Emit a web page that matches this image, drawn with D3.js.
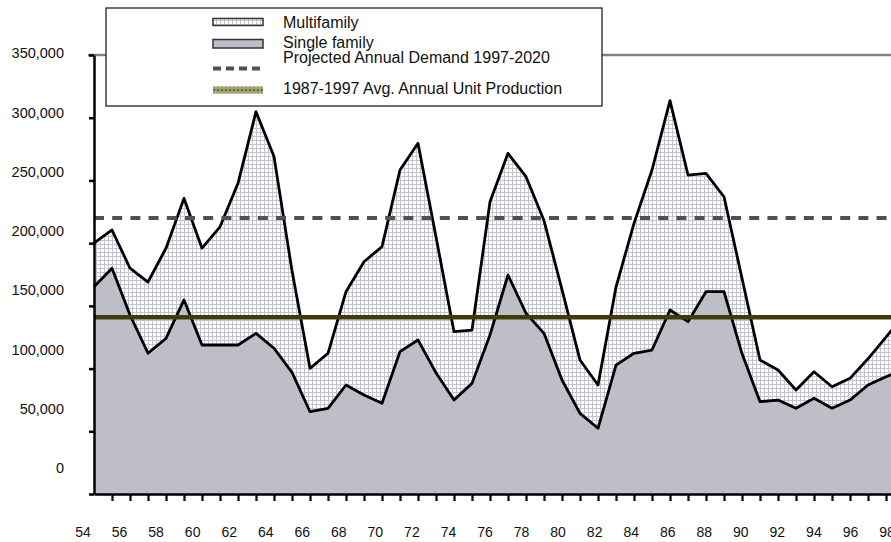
<!DOCTYPE html>
<html>
<head>
<meta charset="utf-8">
<script src="https://cdn.jsdelivr.net/npm/d3@7"></script>
<style>
  html, body { margin: 0; padding: 0; background: #fff; overflow: hidden; }
  svg { display: block; font-family: "Liberation Sans", Arial, sans-serif; }
</style>
</head>
<body>
<svg id="chart" width="891" height="542"></svg>
<script>
// Housing units authorized per year, 1954-1999
const years = [1954, 1955, 1956, 1957, 1958, 1959, 1960, 1961, 1962, 1963,
               1964, 1965, 1966, 1967, 1968, 1969, 1970, 1971, 1972, 1973,
               1974, 1975, 1976, 1977, 1978, 1979, 1980, 1981, 1982, 1983,
               1984, 1985, 1986, 1987, 1988, 1989, 1990, 1991, 1992, 1993,
               1994, 1995, 1996, 1997, 1998, 1999];

// Total units (single family + multifamily)
const totalUnits = [200000, 210500, 180000, 169000, 196000, 235700, 196000, 213000, 247700, 304800,
                    269000, 178000, 100200, 112200, 161300, 185200, 197200, 258300, 279600, 205000,
                    129400, 130700, 233000, 271600, 253000, 218000, 163000, 106800, 86900, 165000,
                    215800, 258300, 313600, 254300, 255700, 237000, 172000, 106800, 98900, 82900,
                    97500, 85500, 92200, 107800, 125100, 142700];

// Single family units
const singleFamily = [165300, 179900, 142700, 112200, 124100, 154700, 118800, 118800, 118800, 128100,
                      116200, 97000, 65600, 68300, 86900, 78900, 72300, 113500, 122800, 96600,
                      74900, 88200, 126800, 174600, 144100, 128100, 90900, 64300, 52400, 102800,
                      112200, 114800, 146700, 137400, 161300, 161300, 112000, 73600, 74900, 68300,
                      76300, 68300, 74900, 86900, 93500, 99400];

const projectedDemand = 220000;   // 1997-2020 projection
const avgProduction = 141000;     // 1987-1997 average

const yTickValues = [0, 50000, 100000, 150000, 200000, 250000, 300000, 350000];
const xLabelYears = [1954, 1956, 1958, 1960, 1962, 1964, 1966, 1968, 1970, 1972, 1974, 1976,
                     1978, 1980, 1982, 1984, 1986, 1988, 1990, 1992, 1994, 1996, 1998];
const legendLabels = ["Multifamily", "Single family",
                      "Projected Annual Demand 1997-2020",
                      "1987-1997 Avg. Annual Unit Production"];

const rows = years.map((yr, i) => ({ year: yr, total: totalUnits[i], single: singleFamily[i] }));

const svg = d3.select("#chart");

const x = d3.scaleLinear().domain([1954, 1999]).range([94, 904]);
const y = d3.scaleLinear().domain([0, 350000]).range([494, 55]);
// tick labels are laid out on their own, slightly tighter scales
const yLabel = d3.scaleLinear().domain([0, 350000]).range([468, 53]);
const xLabel = d3.scaleLinear().domain([1954, 1998]).range([83, 887]);

// ---- patterns ----
const defs = svg.append("defs");
const grid = defs.append("pattern")
  .attr("id", "gridFill").attr("patternUnits", "userSpaceOnUse")
  .attr("width", 4).attr("height", 4);
grid.append("rect").attr("width", 4).attr("height", 4).attr("fill", "#ffffff");
grid.append("path").attr("d", "M0 0.5H4M0.5 0V4")
  .attr("stroke", "#c3c3d2").attr("stroke-width", 1);

const olive = defs.append("pattern")
  .attr("id", "oliveFill").attr("patternUnits", "userSpaceOnUse")
  .attr("width", 4).attr("height", 4);
olive.append("rect").attr("width", 4).attr("height", 4).attr("fill", "#a3a374");
olive.append("circle").attr("cx", 2).attr("cy", 2).attr("r", 1.1).attr("fill", "#5c5c25");

// ---- plot area top border ----
svg.append("line")
  .attr("x1", 88).attr("x2", 891).attr("y1", y(350000)).attr("y2", y(350000))
  .attr("stroke", "#808080").attr("stroke-width", 2.5);

// ---- areas ----
svg.append("path").datum(rows)
  .attr("fill", "url(#gridFill)")
  .attr("d", d3.area().x(d => x(d.year)).y0(d => y(d.single)).y1(d => y(d.total)));

svg.append("path").datum(rows)
  .attr("fill", "#bebec8")
  .attr("d", d3.area().x(d => x(d.year)).y0(y(0)).y1(d => y(d.single)));

// ---- outlines ----
const lineOf = key => d3.line().x(d => x(d.year)).y(d => y(d[key]));
["total", "single"].forEach(k => {
  svg.append("path").datum(rows)
    .attr("fill", "none").attr("stroke", "#000")
    .attr("stroke-width", 2.8).attr("stroke-linejoin", "round")
    .attr("d", lineOf(k));
});

// ---- reference lines ----
svg.append("line")
  .attr("x1", x(1954)).attr("x2", 891)
  .attr("y1", y(projectedDemand)).attr("y2", y(projectedDemand))
  .attr("stroke", "#505050").attr("stroke-width", 4)
  .attr("stroke-dasharray", "10,8.2");

svg.append("line")
  .attr("x1", x(1954)).attr("x2", 891)
  .attr("y1", y(avgProduction)).attr("y2", y(avgProduction))
  .attr("stroke", "#3e3c06").attr("stroke-width", 4.5);

// ---- axes ----
const yAxis = svg.append("g")
  .attr("transform", `translate(${x(1954)},0)`)
  .call(d3.axisLeft(y).tickValues(yTickValues).tickSize(5).tickSizeOuter(0).tickFormat(""));
yAxis.select(".domain").attr("stroke", "#000").attr("stroke-width", 2.5);
yAxis.selectAll(".tick line").attr("stroke", "#000").attr("stroke-width", 2.5);

const xAxis = svg.append("g")
  .attr("transform", `translate(0,${y(0)})`)
  .call(d3.axisBottom(x).tickValues(years.filter(v => v > 1954 && v < 1999))
          .tickSize(7).tickSizeOuter(0).tickFormat(""));
xAxis.select(".domain").attr("stroke", "#000").attr("stroke-width", 2.5);
xAxis.selectAll(".tick line").attr("stroke", "#000").attr("stroke-width", 2.2);

// ---- tick labels ----
svg.append("g").selectAll("text").data(yTickValues).join("text")
  .attr("x", 64).attr("y", d => yLabel(d)).attr("dy", "0.36em")
  .attr("text-anchor", "end").attr("font-size", 14.5).attr("fill", "#111")
  .text(d => d3.format(",")(d));

svg.append("g").selectAll("text").data(xLabelYears).join("text")
  .attr("x", d => xLabel(d)).attr("y", 537)
  .attr("text-anchor", "middle").attr("font-size", 14).attr("fill", "#111")
  .text(d => String(d).slice(2));

// ---- legend ----
const legend = svg.append("g");
legend.append("rect")
  .attr("x", 106).attr("y", 8).attr("width", 496).attr("height", 98)
  .attr("fill", "#fff").attr("stroke", "#222").attr("stroke-width", 1.3);

const swX = 213, swW = 50, txtX = 283;
const baselines = [28, 47.5, 63, 94];

legend.append("rect").attr("x", swX).attr("y", 18.5).attr("width", swW).attr("height", 7)
  .attr("fill", "url(#gridFill)").attr("stroke", "#333").attr("stroke-width", 1.5);
legend.append("rect").attr("x", swX).attr("y", 39.5).attr("width", swW).attr("height", 8.5)
  .attr("fill", "#bebec8").attr("stroke", "#333").attr("stroke-width", 1.5);
legend.append("line").attr("x1", swX).attr("x2", swX + swW).attr("y1", 68.5).attr("y2", 68.5)
  .attr("stroke", "#505050").attr("stroke-width", 4).attr("stroke-dasharray", "8,5");
legend.append("rect").attr("x", swX).attr("y", 86.5).attr("width", swW).attr("height", 7)
  .attr("fill", "url(#oliveFill)");

legend.selectAll("text.lab").data(legendLabels).join("text")
  .attr("class", "lab")
  .attr("x", txtX).attr("y", (d, i) => baselines[i])
  .attr("font-size", 16).attr("fill", "#111")
  .text(d => d);
</script>
</body>
</html>
